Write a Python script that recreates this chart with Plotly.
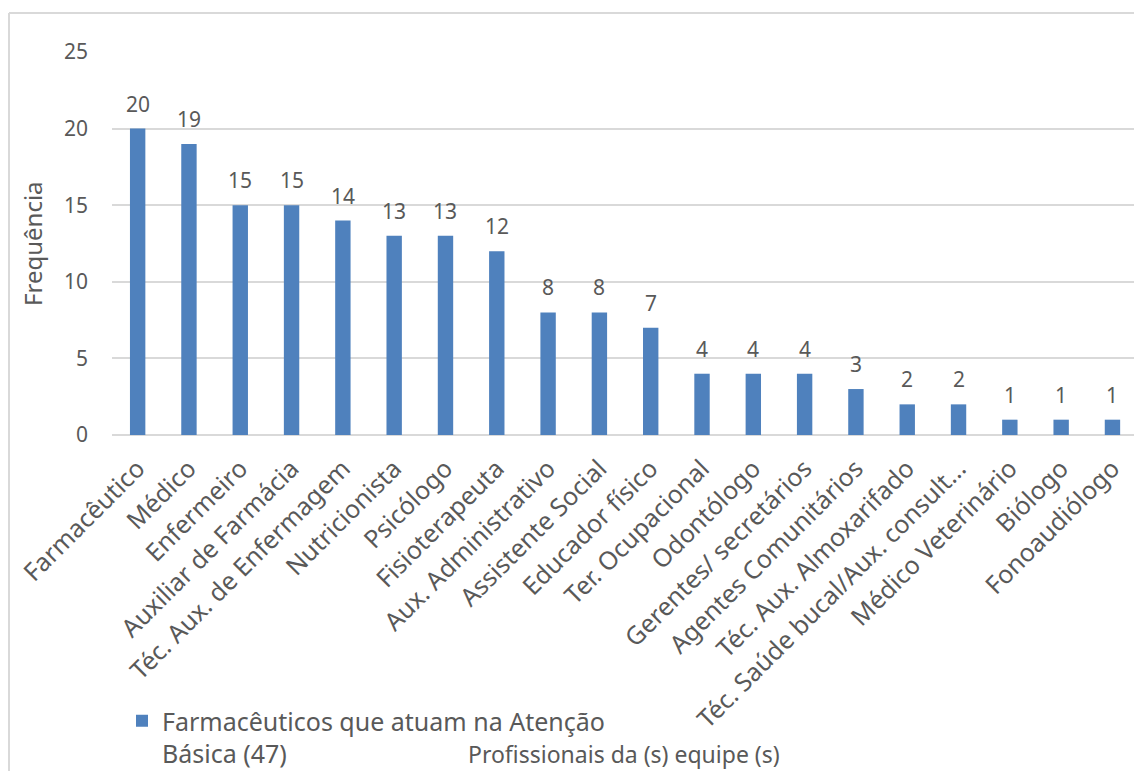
import plotly.graph_objects as go

categories = ["Farmacêutico", "Médico", "Enfermeiro", "Auxiliar de Farmácia",
              "Téc. Aux. de Enfermagem", "Nutricionista", "Psicólogo", "Fisioterapeuta",
              "Aux. Administrativo", "Assistente Social", "Educador físico",
              "Ter. Ocupacional", "Odontólogo", "Gerentes/ secretários",
              "Agentes Comunitários", "Téc. Aux. Almoxarifado",
              "Téc. Saúde bucal/Aux. consult...", "Médico Veterinário", "Biólogo",
              "Fonoaudiólogo"]
values = [20, 19, 15, 15, 14, 13, 13, 12, 8, 8, 7, 4, 4, 4, 3, 2, 2, 1, 1, 1]
series_name = "Farmacêuticos que atuam na Atenção<br>Básica (47)"
y_ticks = [0, 5, 10, 15, 20, 25]

FONT = "Noto Sans"
TXT = "#595959"
GRID = "#d9d9d9"

fig = go.Figure()
fig.add_trace(go.Bar(
    x=list(range(len(categories))), y=values, name=series_name,
    marker=dict(color="#4f81bd", line=dict(width=0)),
    width=0.3, showlegend=True,
))

for i, v in enumerate(values):
    fig.add_annotation(x=i, y=v, text=str(v), showarrow=False, yanchor="bottom",
                       yshift=9, font=dict(family=FONT, size=21, color=TXT))

L, R, T, B = 112, 0, 52, 336
W, H = 1134, 771
pw, ph = W - L - R, H - T - B

def px(xp):
    return (xp - L) / pw

def py(yp):
    return (H - B - yp) / ph

fig.update_layout(
    width=W, height=H,
    margin=dict(l=L, r=R, t=T, b=B, pad=0, autoexpand=False),
    paper_bgcolor="white", plot_bgcolor="white",
    font=dict(family=FONT, size=21, color=TXT),
    bargap=0.7,
    xaxis=dict(
        tickmode="array", tickvals=list(range(len(categories))), ticktext=categories,
        tickangle=-45, range=[-0.5, 19.42], showgrid=False, zeroline=False,
        showline=False, ticks="", ticklabelstandoff=13, automargin=False,
        tickfont=dict(family=FONT, size=25, color=TXT),
    ),
    yaxis=dict(
        range=[0, 25], tickvals=y_ticks, showgrid=True, gridcolor=GRID, gridwidth=2,
        zeroline=True, zerolinecolor=GRID, zerolinewidth=2, showline=False, ticks="",
        ticklabelstandoff=23, automargin=False,
        tickfont=dict(family=FONT, size=21, color=TXT),
    ),
    legend=dict(x=px(122), y=py(698), xanchor="left", yanchor="top", valign="top",
                font=dict(family=FONT, size=25, color=TXT), bgcolor="rgba(0,0,0,0)",
                itemwidth=30, tracegroupgap=0),
    showlegend=True,
)

fig.add_annotation(xref="paper", yref="paper", x=px(32), y=py(244), text="Frequência",
                   xanchor="center", yanchor="middle",
                   textangle=-90, showarrow=False, font=dict(family=FONT, size=24, color=TXT))
fig.add_annotation(xref="paper", yref="paper", x=px(624), y=py(754),
                   xanchor="center", yanchor="middle",
                   text="Profissionais da (s) equipe (s)", showarrow=False,
                   font=dict(family=FONT, size=23, color=TXT))

# chart border (left and top edges visible)
fig.add_shape(type="line", xref="paper", yref="paper", x0=px(9), x1=px(1140),
              y0=py(13), y1=py(13), line=dict(color=GRID, width=2))
fig.add_shape(type="line", xref="paper", yref="paper", x0=px(9), x1=px(9),
              y0=py(13), y1=py(780), line=dict(color=GRID, width=2))

fig.write_html("out.html")
